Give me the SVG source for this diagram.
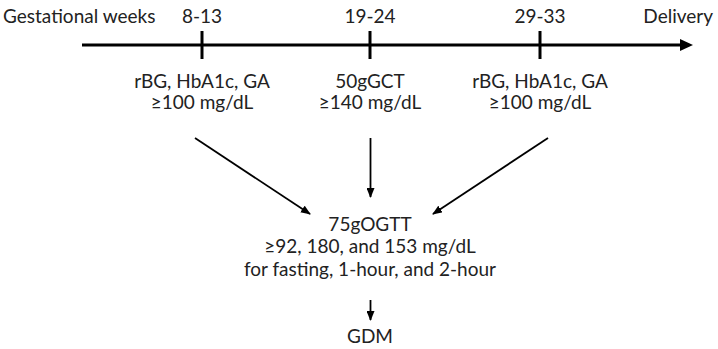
<svg xmlns="http://www.w3.org/2000/svg" width="718" height="349" viewBox="0 0 718 349">
<style>
text{font-family:Lato,"Open Sans",sans-serif;font-size:19px;fill:#222;text-anchor:middle}
.l{stroke:#000;stroke-width:1.8;fill:none}
.t{stroke:#000;stroke-width:3;fill:none}
</style>
<defs>
<marker id="ah" markerWidth="10" markerHeight="8" refX="9" refY="4" orient="auto" markerUnits="userSpaceOnUse">
<path d="M0,0 L10,4 L0,8 Z" fill="#000"/>
</marker>
</defs>
<g id="timeline">
<line class="t" x1="82" y1="45" x2="682" y2="45"/>
<path d="M680,39 L693,45 L680,51 Z" fill="#000"/>
<line class="t" x1="202" y1="31" x2="202" y2="59"/>
<line class="t" x1="370" y1="31" x2="370" y2="59"/>
<line class="t" x1="540" y1="31" x2="540" y2="59"/>
<text x="3" y="23" style="text-anchor:start">Gestational weeks</text>
<text x="202" y="23">8-13</text>
<text x="370" y="23">19-24</text>
<text x="540" y="23">29-33</text>
<text x="713" y="23" style="text-anchor:end">Delivery</text>
</g>
<g id="n1">
<text x="202" y="88">rBG, HbA1c, GA</text>
<text x="202" y="109">≥100 mg/dL</text>
</g>
<g id="n2">
<text x="370" y="88">50gGCT</text>
<text x="370" y="109">≥140 mg/dL</text>
</g>
<g id="n3">
<text x="540" y="88">rBG, HbA1c, GA</text>
<text x="540" y="109">≥100 mg/dL</text>
</g>
<g id="n4">
<text x="370" y="231">75gOGTT</text>
<text x="370" y="253">≥92, 180, and 153 mg/dL</text>
<text x="370" y="276">for fasting, 1-hour, and 2-hour</text>
</g>
<g id="n5">
<text x="370" y="343">GDM</text>
</g>
<g id="connectors">
<line class="l" x1="195" y1="138" x2="310" y2="214" marker-end="url(#ah)"/>
<line class="l" x1="370.5" y1="138" x2="370.5" y2="197" marker-end="url(#ah)"/>
<line class="l" x1="548" y1="138" x2="433" y2="214" marker-end="url(#ah)"/>
<line class="l" x1="370.5" y1="300" x2="370.5" y2="320" marker-end="url(#ah)"/>
</g>
</svg>
